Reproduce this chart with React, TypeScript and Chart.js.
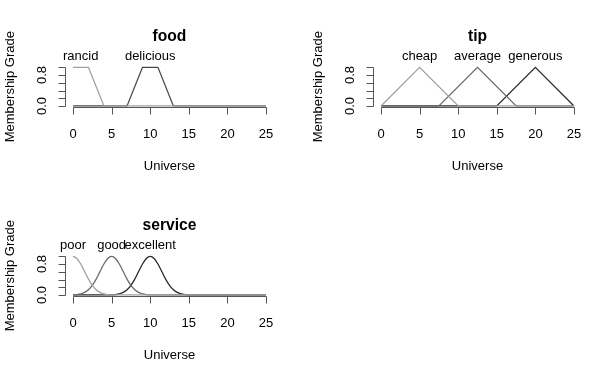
import React, { useEffect, useRef } from "react";
import { Chart, registerables } from "chart.js";

Chart.register(...registerables);

// ---- shared axis data ----
const xTicks = [0, 5, 10, 15, 20, 25];
const yTicks = [0, 0.2, 0.4, 0.6, 0.8, 1];
const yTickLabels = ["0.0", "", "", "", "0.8", ""];
const xAxisTitle = "Universe";
const yAxisTitle = "Membership Grade";

// ---- food ----
const foodTitle = "food";
const foodTerms = ["rancid", "delicious"];
const foodTermLabelX = [1, 10];
const rancidX = [0, 2, 4, 25];
const rancidY = [1, 1, 0, 0];
const deliciousX = [0, 7, 9, 11, 13, 25];
const deliciousY = [0, 0, 1, 1, 0, 0];

// ---- tip ----
const tipTitle = "tip";
const tipTerms = ["cheap", "average", "generous"];
const tipTermLabelX = [5, 12.5, 20];
const cheapX = [0, 5, 10, 25];
const cheapY = [0, 1, 0, 0];
const averageX = [0, 7.5, 12.5, 17.5, 25];
const averageY = [0, 0, 1, 0, 0];
const generousX = [0, 15, 20, 25];
const generousY = [0, 0, 1, 0];

// ---- service ----
const serviceTitle = "service";
const serviceTerms = ["poor", "good", "excellent"];
const serviceTermLabelX = [0, 5, 10];
const serviceX = [
  0, 0.5, 1, 1.5, 2, 2.5, 3, 3.5, 4, 4.5, 5, 5.5, 6, 6.5, 7, 7.5, 8, 8.5, 9, 9.5,
  10, 10.5, 11, 11.5, 12, 12.5, 13, 13.5, 14, 14.5, 15, 25,
];
const poorY = [
  1, 0.946, 0.801, 0.607, 0.411, 0.249, 0.135, 0.066, 0.029, 0.011, 0.004, 0.001,
  0, 0, 0, 0, 0, 0, 0, 0, 0, 0, 0, 0, 0, 0, 0, 0, 0, 0, 0, 0,
];
const goodY = [
  0.004, 0.011, 0.029, 0.066, 0.135, 0.249, 0.411, 0.607, 0.801, 0.946, 1, 0.946,
  0.801, 0.607, 0.411, 0.249, 0.135, 0.066, 0.029, 0.011, 0.004,
  0, 0, 0, 0, 0, 0, 0, 0, 0, 0, 0,
];
const excellentY = [
  0, 0, 0, 0, 0, 0, 0, 0, 0, 0.001, 0.004, 0.011, 0.029, 0.066, 0.135, 0.249,
  0.411, 0.607, 0.801, 0.946, 1, 0.946, 0.801, 0.607, 0.411, 0.249, 0.135, 0.066,
  0.029, 0.011, 0.004, 0,
];

const LIGHT = "#a0a0a0";
const MID = "#6a6a6a";
const DARK = "#2a2a2a";
const AXIS = "#555555";
const FONT = '"Liberation Sans", Arial, Helvetica, sans-serif';

const PANEL_W = 308;
const PANEL_H = 189;

type Series = { x: number[]; y: number[]; color: string };
type PanelCfg = {
  title: string;
  terms: string[];
  termX: number[];
  series: Series[];
  smooth: boolean;
};

const panels: { cfg: PanelCfg; left: number; top: number }[] = [
  {
    left: 0,
    top: 0,
    cfg: {
      title: foodTitle,
      terms: foodTerms,
      termX: foodTermLabelX,
      smooth: false,
      series: [
        { x: rancidX, y: rancidY, color: LIGHT },
        { x: deliciousX, y: deliciousY, color: "#4a4a4a" },
      ],
    },
  },
  {
    left: 308,
    top: 0,
    cfg: {
      title: tipTitle,
      terms: tipTerms,
      termX: tipTermLabelX,
      smooth: false,
      series: [
        { x: cheapX, y: cheapY, color: LIGHT },
        { x: averageX, y: averageY, color: MID },
        { x: generousX, y: generousY, color: DARK },
      ],
    },
  },
  {
    left: 0,
    top: 189,
    cfg: {
      title: serviceTitle,
      terms: serviceTerms,
      termX: serviceTermLabelX,
      smooth: true,
      series: [
        { x: serviceX, y: poorY, color: LIGHT },
        { x: serviceX, y: goodY, color: MID },
        { x: serviceX, y: excellentY, color: DARK },
      ],
    },
  },
];

function makeDecor(cfg: PanelCfg) {
  return {
    id: "rDecor",
    afterDraw(chart: any) {
      const { ctx, chartArea } = chart;
      const xs = chart.scales.x;
      const ys = chart.scales.y;
      const crisp = (v: number) => Math.round(v) + 0.5;
      ctx.save();
      ctx.strokeStyle = AXIS;
      ctx.lineWidth = 1;
      const yb = crisp(chartArea.bottom);
      const xl = crisp(chartArea.left);
      ctx.beginPath();
      // x axis
      ctx.moveTo(crisp(xs.getPixelForValue(xTicks[0])), yb);
      ctx.lineTo(crisp(xs.getPixelForValue(xTicks[xTicks.length - 1])), yb);
      xTicks.forEach((t) => {
        const px = crisp(xs.getPixelForValue(t));
        ctx.moveTo(px, yb);
        ctx.lineTo(px, yb + 7);
      });
      // y axis
      ctx.moveTo(xl, crisp(ys.getPixelForValue(yTicks[0])));
      ctx.lineTo(xl, crisp(ys.getPixelForValue(yTicks[yTicks.length - 1])));
      yTicks.forEach((t) => {
        const py = crisp(ys.getPixelForValue(t));
        ctx.moveTo(xl, py);
        ctx.lineTo(xl - 7, py);
      });
      ctx.stroke();

      ctx.fillStyle = "#000";
      ctx.font = `13px ${FONT}`;
      ctx.textAlign = "center";
      ctx.textBaseline = "alphabetic";
      // x tick labels
      xTicks.forEach((t) => {
        ctx.fillText(String(t), xs.getPixelForValue(t), chartArea.bottom + 30);
      });
      // x title
      ctx.fillText(
        xAxisTitle,
        xs.getPixelForValue((xTicks[0] + xTicks[xTicks.length - 1]) / 2),
        chartArea.bottom + 62
      );
      // term labels
      cfg.terms.forEach((name, i) => {
        ctx.fillText(name, xs.getPixelForValue(cfg.termX[i]), chartArea.top - 6);
      });
      // y tick labels (rotated)
      yTicks.forEach((t, i) => {
        const lab = yTickLabels[i];
        if (!lab) return;
        ctx.save();
        ctx.translate(chartArea.left - 19, ys.getPixelForValue(t));
        ctx.rotate(-Math.PI / 2);
        ctx.fillText(lab, 0, 0);
        ctx.restore();
      });
      // y title
      ctx.save();
      ctx.translate(chartArea.left - 51, (chartArea.top + chartArea.bottom) / 2);
      ctx.rotate(-Math.PI / 2);
      ctx.fillText(yAxisTitle, 0, 0);
      ctx.restore();
      // main title
      ctx.font = `bold 15.6px ${FONT}`;
      ctx.fillText(
        cfg.title,
        (chartArea.left + chartArea.right) / 2,
        chartArea.top - 25
      );
      ctx.restore();
    },
  };
}

function Panel({ cfg, left, top }: { cfg: PanelCfg; left: number; top: number }) {
  const ref = useRef<HTMLCanvasElement>(null);
  useEffect(() => {
    const canvas = ref.current;
    if (!canvas) return;
    const chart = new Chart(canvas, {
      type: "line",
      data: {
        datasets: cfg.series.map((s) => ({
          data: s.x.map((xv, i) => ({ x: xv, y: s.y[i] })),
          borderColor: s.color,
          borderWidth: 1.3,
          pointRadius: 0,
          fill: false,
          tension: 0,
          cubicInterpolationMode: cfg.smooth ? "monotone" : "default",
        })),
      },
      options: {
        animation: false,
        responsive: false,
        devicePixelRatio: 1,
        events: [],
        layout: {
          padding: { left: 65.3, right: 34.3, top: 65.8, bottom: 81.5 },
        },
        plugins: {
          legend: { display: false },
          tooltip: { enabled: false },
          title: { display: false },
        },
        scales: {
          x: { type: "linear", min: -1, max: 26, display: false },
          y: { type: "linear", min: -0.04, max: 1.04, display: false },
        },
      },
      plugins: [makeDecor(cfg)],
    } as any);
    return () => chart.destroy();
  }, []);
  return (
    <canvas
      ref={ref}
      width={PANEL_W}
      height={PANEL_H}
      style={{ position: "absolute", left, top, width: PANEL_W, height: PANEL_H }}
    />
  );
}

export default function App() {
  return (
    <div
      style={{
        position: "fixed",
        left: 0,
        top: 0,
        width: 616,
        height: 378,
        background: "#fff",
        overflow: "hidden",
      }}
    >
      {panels.map((p, i) => (
        <Panel key={i} cfg={p.cfg} left={p.left} top={p.top} />
      ))}
    </div>
  );
}
